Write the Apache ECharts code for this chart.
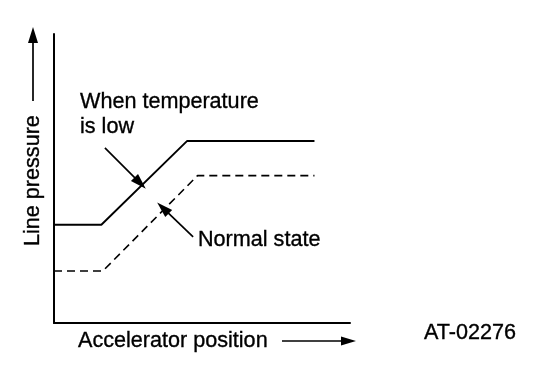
<!DOCTYPE html>
<html>
<head>
<meta charset="utf-8">
<script src="https://cdn.jsdelivr.net/npm/echarts@6/dist/echarts.min.js"></script>
<style>
html,body{margin:0;padding:0;background:#fff;}
#c{width:560px;height:390px;}
</style>
</head>
<body>
<div id="c"></div>
<script>
// Data (accelerator position %, line pressure %)
const lowTempLine = [[0, 34], [16, 34], [45, 63], [88, 63]];
const normalLine = [[0, 18], [16.5, 18], [48.5, 51], [88, 51]];
// annotation arrows: [from, to] in data coordinates
const lowTempArrow = [[17.2, 60.6], [29.1, 48.4]];
const normalArrow = [[47, 29.8], [36.8, 39.8]];
const labels = {
  low: ['When temperature', 'is low'],
  normal: 'Normal state',
  x: 'Accelerator position',
  y: 'Line pressure',
  code: 'AT-02276'
};

const FONT = '21.6px "Liberation Sans", Arial, sans-serif';
const chart = echarts.init(document.getElementById('c'), null, {renderer: 'canvas'});

function arrowMark(pts) {
  return {
    silent: true,
    symbol: ['none', 'triangle'],
    symbolSize: [10, 16],
    label: {show: false},
    lineStyle: {color: '#000', width: 1.7, type: 'solid'},
    emphasis: {disabled: true},
    data: [[{coord: pts[0]}, {coord: pts[1]}]]
  };
}

function txt(x, y, s, extra) {
  return Object.assign({type: 'text', x: x, y: y, style: {text: s, font: FONT, fill: '#000', stroke: '#000', lineWidth: 0.35, textVerticalAlign: 'middle'}}, extra || {});
}

chart.setOption({
  animation: false,
  backgroundColor: '#fff',
  grid: {left: 54, top: 34, width: 296, height: 289},
  xAxis: {
    type: 'value', min: 0, max: 100,
    axisLine: {show: true, onZero: false, lineStyle: {color: '#000', width: 2}},
    axisTick: {show: false}, axisLabel: {show: false}, splitLine: {show: false}
  },
  yAxis: {
    type: 'value', min: 0, max: 100,
    axisLine: {show: true, onZero: false, lineStyle: {color: '#000', width: 2}},
    axisTick: {show: false}, axisLabel: {show: false}, splitLine: {show: false}
  },
  series: [
    {
      type: 'line', data: lowTempLine, symbol: 'none', silent: true,
      lineStyle: {color: '#000', width: 1.9, type: 'solid'},
      markLine: arrowMark(lowTempArrow)
    },
    {
      type: 'line', data: normalLine, symbol: 'none', silent: true,
      lineStyle: {color: '#000', width: 1.6, type: [8, 5]},
      markLine: arrowMark(normalArrow)
    }
  ],
  graphic: [
    txt(80, 102.5, labels.low[0]),
    txt(80, 127, labels.low[1]),
    txt(198, 240, labels.normal),
    txt(78, 341, labels.x),
    txt(424, 333, labels.code),
    txt(33, 246, labels.y, {rotation: Math.PI / 2}),
    // y label arrow
    {type: 'line', shape: {x1: 33, y1: 101, x2: 33, y2: 40}, style: {stroke: '#000', lineWidth: 1.7}},
    {type: 'polygon', shape: {points: [[33, 27], [28, 43], [38, 43]]}, style: {fill: '#000'}},
    // x label arrow
    {type: 'line', shape: {x1: 282, y1: 341, x2: 345, y2: 341}, style: {stroke: '#000', lineWidth: 1.7}},
    {type: 'polygon', shape: {points: [[356, 341], [341, 336.5], [341, 345.5]]}, style: {fill: '#000'}}
  ]
});
</script>
</body>
</html>
